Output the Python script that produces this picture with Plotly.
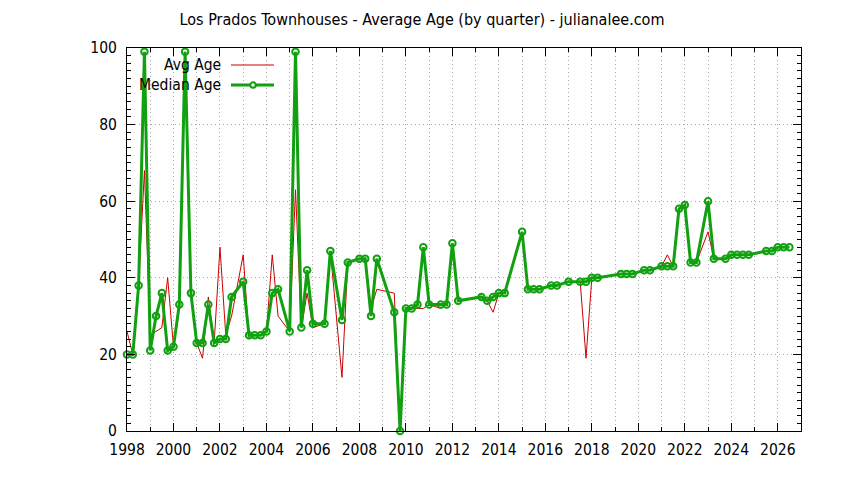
import plotly.graph_objects as go

quarters = [1998.0, 1998.25, 1998.5, 1998.75, 1999.0, 1999.25, 1999.5, 1999.75,
            2000.0, 2000.25, 2000.5, 2000.75, 2001.0, 2001.25, 2001.5, 2001.75,
            2002.0, 2002.25, 2002.5, 2003.0, 2003.25, 2003.5, 2003.75,
            2004.0, 2004.25, 2004.5, 2005.0, 2005.25, 2005.5, 2005.75,
            2006.0, 2006.5, 2006.75, 2007.25, 2007.5, 2008.0, 2008.25, 2008.5, 2008.75,
            2009.5, 2009.75, 2010.0, 2010.25, 2010.5, 2010.75, 2011.0, 2011.5, 2011.75,
            2012.0, 2012.25, 2013.25, 2013.5, 2013.75, 2014.0, 2014.25,
            2015.0, 2015.25, 2015.5, 2015.75, 2016.25, 2016.5, 2017.0, 2017.5, 2017.75,
            2018.0, 2018.25, 2019.25, 2019.5, 2019.75, 2020.25, 2020.5,
            2021.0, 2021.25, 2021.5, 2021.75, 2022.0, 2022.25, 2022.5,
            2023.0, 2023.25, 2023.75, 2024.0, 2024.25, 2024.5, 2024.75,
            2025.5, 2025.75, 2026.0, 2026.25, 2026.5]

avg_age = [26, 20, 38, 68, 25, 26, 27, 40,
           22, 33, 99, 37, 23, 19, 35, 23,
           48, 25, 30, 46, 24, 25, 25,
           26, 46, 30, 26, 63, 27, 36,
           27, 28, 47, 14, 44, 45, 45, 32, 37,
           36, 0, 32, 32, 32, 32, 33, 32, 33,
           49, 34, 35, 34, 31, 36, 36,
           52, 37, 37, 37, 38, 38, 39, 39, 19,
           40, 40, 41, 41, 41, 42, 42,
           43, 46, 43, 58, 59, 44, 44,
           52, 45, 45, 46, 46, 46, 46,
           47, 47, 48, 48, 48]

median_age = [20, 20, 38, 99, 21, 30, 36, 21,
              22, 33, 99, 36, 23, 23, 33, 23,
              24, 24, 35, 39, 25, 25, 25,
              26, 36, 37, 26, 99, 27, 42,
              28, 28, 47, 29, 44, 45, 45, 30, 45,
              31, 0, 32, 32, 33, 48, 33, 33, 33,
              49, 34, 35, 34, 35, 36, 36,
              52, 37, 37, 37, 38, 38, 39, 39, 39,
              40, 40, 41, 41, 41, 42, 42,
              43, 43, 43, 58, 59, 44, 44,
              60, 45, 45, 46, 46, 46, 46,
              47, 47, 48, 48, 48]

title_text = "Los Prados Townhouses - Average Age (by quarter) - julianalee.com"
legend_labels = ["Avg Age", "Median Age"]

RED = "#cc0000"
GREEN = "#10a010"
GRID = "#a8a8a8"
FONT = "DejaVu Sans Condensed, Liberation Sans Narrow, DejaVu Sans, sans-serif"

fig = go.Figure()
fig.add_trace(go.Scatter(x=quarters, y=avg_age, mode="lines",
                         line=dict(color=RED, width=1), name=legend_labels[0],
                         showlegend=False))
fig.add_trace(go.Scatter(x=quarters, y=median_age, mode="lines+markers",
                         line=dict(color=GREEN, width=3),
                         marker=dict(symbol="circle-open", size=6.5, color=GREEN,
                                     line=dict(color=GREEN, width=2)),
                         name=legend_labels[1], showlegend=False, cliponaxis=False))

# manual legend (text right-aligned, sample to the right)
L, R, T, B = 127, 801, 48, 431
W, H = R - L, B - T
def px(x):
    return (x - L) / W
def py(y):
    return (B - y) / H

for i, (lab, col, wid) in enumerate([(legend_labels[0], RED, 1), (legend_labels[1], GREEN, 3)]):
    yy = 65 + 20 * i
    fig.add_annotation(x=px(223), y=py(yy), xref="paper", yref="paper",
                       text=lab, showarrow=False, xanchor="right", yanchor="middle",
                       font=dict(family=FONT, size=15.5, color="black"))
    fig.add_shape(type="line", xref="paper", yref="paper",
                  x0=px(231), x1=px(274), y0=py(yy), y1=py(yy),
                  line=dict(color=col, width=wid))
    if i == 1:
        fig.add_shape(type="circle", xref="paper", yref="paper",
                      x0=px(250.3), x1=px(255.7), y0=py(yy + 2.7), y1=py(yy - 2.7),
                      line=dict(color=GREEN, width=2), fillcolor="white")

axis_common = dict(showline=True, linecolor="black", linewidth=1, mirror="ticks",
                   ticks="inside", tickcolor="black", tickwidth=1,
                   showgrid=True, gridcolor=GRID, griddash="1px,3px", gridwidth=1,
                   zeroline=False, tickfont=dict(family=FONT, size=15.5, color="black"))

fig.update_xaxes(range=[1998, 2027], tick0=1998, dtick=2, ticklen=8,
                 minor=dict(dtick=1, tick0=1998, ticks="inside", ticklen=4, tickcolor="black",
                            showgrid=True, gridcolor=GRID, griddash="1px,3px", gridwidth=1),
                 ticklabelstandoff=4, **axis_common)
fig.update_yaxes(range=[0, 100], tick0=0, dtick=20, ticklen=8,
                 minor=dict(dtick=2, tick0=0, ticks="inside", ticklen=4, tickcolor="black",
                            showgrid=False),
                 ticklabelstandoff=6, **axis_common)

fig.update_layout(
    width=844, height=480,
    margin=dict(l=L, r=844 - R, t=T, b=480 - B),
    paper_bgcolor="white", plot_bgcolor="white",
    title=dict(text=title_text, x=0.5, xref="container", xanchor="center",
               y=1 - 19 / 480, yref="container", yanchor="middle",
               font=dict(family=FONT, size=16, color="black")),
    font=dict(family=FONT, size=15, color="black"),
)

fig.write_html("out.html", config={"displayModeBar": False},
               post_script="document.body.style.margin='0';document.body.style.padding='0';")
